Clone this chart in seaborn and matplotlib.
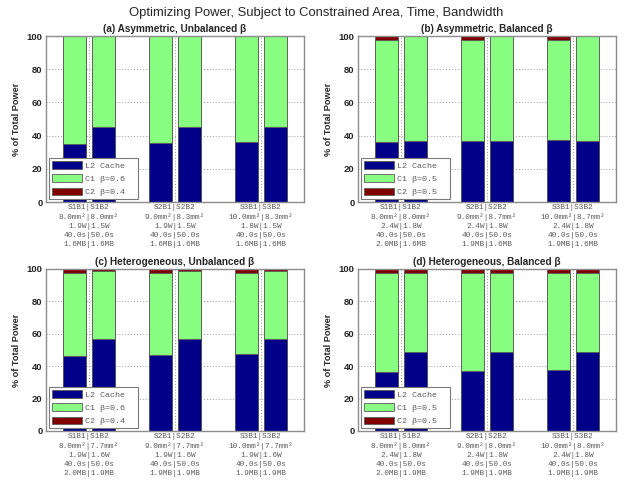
import matplotlib
matplotlib.use("Agg")
import matplotlib.pyplot as plt
import numpy as np
import pandas as pd
import seaborn as sns
from matplotlib.patches import Patch

sns.set_style("white")
plt.rcParams['font.family'] = ['Liberation Sans', 'DejaVu Sans']

# ---------------- data ----------------
groups = ["S1", "S2", "S3"]
configs = ["B1", "B2"]

titles = ["(a) Asymmetric, Unbalanced β", "(b) Asymmetric, Balanced β",
          "(c) Heterogeneous, Unbalanced β", "(d) Heterogeneous, Balanced β"]

legend_labels = [["L2 Cache", "C1 β=0.6", "C2 β=0.4"],
                 ["L2 Cache", "C1 β=0.5", "C2 β=0.5"],
                 ["L2 Cache", "C1 β=0.6", "C2 β=0.4"],
                 ["L2 Cache", "C1 β=0.5", "C2 β=0.5"]]

# order: S1B1, S1B2, S2B1, S2B2, S3B1, S3B2
l2_a = [34.8, 45.4, 35.8, 45.4, 36.0, 45.4]
c1_a = [65.2, 54.6, 64.2, 54.6, 64.0, 54.6]
c2_a = [0.0, 0.0, 0.0, 0.0, 0.0, 0.0]

l2_b = [36.2, 37.0, 37.0, 37.0, 37.4, 37.0]
c1_b = [61.3, 63.0, 60.5, 63.0, 60.1, 63.0]
c2_b = [2.5, 0.0, 2.5, 0.0, 2.5, 0.0]

l2_c = [46.3, 56.6, 46.9, 56.6, 47.3, 56.6]
c1_c = [51.2, 41.9, 50.6, 41.9, 50.2, 41.9]
c2_c = [2.5, 1.5, 2.5, 1.5, 2.5, 1.5]

l2_d = [36.6, 49.0, 37.2, 49.0, 37.6, 49.0]
c1_d = [60.9, 48.8, 60.3, 48.8, 59.9, 48.8]
c2_d = [2.5, 2.2, 2.5, 2.2, 2.5, 2.2]

# tick label info, per panel, per group: (B1 value, B2 value)
area_a = [("8.0", "8.0"), ("9.0", "8.3"), ("10.0", "8.3")]
power_a = [("1.9", "1.5"), ("1.9", "1.5"), ("1.8", "1.5")]
mem_a = [("1.6", "1.6"), ("1.6", "1.6"), ("1.6", "1.6")]

area_b = [("8.0", "8.0"), ("9.0", "8.7"), ("10.0", "8.7")]
power_b = [("2.4", "1.8"), ("2.4", "1.8"), ("2.4", "1.8")]
mem_b = [("2.0", "1.6"), ("1.9", "1.6"), ("1.9", "1.6")]

area_c = [("8.0", "7.7"), ("9.0", "7.7"), ("10.0", "7.7")]
power_c = [("1.9", "1.6"), ("1.9", "1.6"), ("1.9", "1.6")]
mem_c = [("2.0", "1.9"), ("1.9", "1.9"), ("1.9", "1.9")]

area_d = [("8.0", "8.0"), ("9.0", "8.0"), ("10.0", "8.0")]
power_d = [("2.4", "1.8"), ("2.4", "1.8"), ("2.4", "1.8")]
mem_d = [("2.0", "1.9"), ("1.9", "1.9"), ("1.9", "1.9")]

times = ("40.0", "50.0")

panels = [
    (l2_a, c1_a, c2_a, area_a, power_a, mem_a),
    (l2_b, c1_b, c2_b, area_b, power_b, mem_b),
    (l2_c, c1_c, c2_c, area_c, power_c, mem_c),
    (l2_d, c1_d, c2_d, area_d, power_d, mem_d),
]

# ---------------- style ----------------
NAVY = "#000088"
GREEN = "#88ff80"
DRED = "#800000"
EDGE = "#5a5a5a"
FRAME = "#8c8c8c"
MONO = ["Liberation Mono", "DejaVu Sans Mono"]

W, H = 632, 484
fig = plt.figure(figsize=(W / 100, H / 100), dpi=100)

boxes = [
    (46, 36, 304, 202),
    (358, 36, 616, 202),
    (46, 269, 304, 431),
    (358, 269, 616, 431),
]

for i, (l2, c1, c2, area, power, mem) in enumerate(panels):
    x0, y0, x1, y1 = boxes[i]
    ax = fig.add_axes([x0 / W, 1 - y1 / H, (x1 - x0) / W, (y1 - y0) / H])
    df = pd.DataFrame({
        "group": [g for g in groups for _ in configs],
        "cfg": [c for _ in groups for c in configs],
        "L2": l2, "C1": c1, "C2": c2,
    })
    df["top2"] = df["L2"] + df["C1"]
    df["top3"] = df["top2"] + df["C2"]
    for col, color in [("top3", DRED), ("top2", GREEN), ("L2", NAVY)]:
        sns.barplot(data=df, x="group", y=col, hue="cfg",
                    palette=[color, color], saturation=1, width=0.68, gap=0.2,
                    edgecolor=EDGE, linewidth=0.6, legend=False,
                    errorbar=None, ax=ax, zorder=2)
    ax.set_xlim(-0.5, 2.5)
    ax.set_ylim(0, 100)
    ax.set_yticks([0, 20, 40, 60, 80, 100])
    ax.set_axisbelow(True)
    ax.grid(True, linestyle=(0, (1, 2)), color="#9a9a9a", linewidth=0.7)
    for s in ax.spines.values():
        s.set_color(FRAME)
        s.set_linewidth(1.0)
        s.set_visible(True)
    ticklabels = []
    for g in range(3):
        lines = [
            f"{groups[g]}B1|{groups[g]}B2",
            f"{area[g][0]}mm²|{area[g][1]}mm²",
            f"{power[g][0]}W|{power[g][1]}W",
            f"{times[0]}s|{times[1]}s",
            f"{mem[g][0]}MB|{mem[g][1]}MB",
        ]
        ticklabels.append("\n".join(lines))
    ax.set_xticks(range(3))
    ax.set_xticklabels(ticklabels, family=MONO,
                       fontsize=5.6, color="#5a5a5a", linespacing=1.4)
    ax.tick_params(axis="x", length=0, pad=1.5)
    ax.tick_params(axis="y", length=0, pad=2.5, labelsize=6.8)
    for t in ax.get_yticklabels():
        t.set_fontweight("bold")
    ax.set_xlabel("")
    ax.set_ylabel("% of Total Power", fontsize=6.6, fontweight="bold", labelpad=4)
    ax.set_title(titles[i], fontsize=7.2, fontweight="bold", pad=3)
    handles = [Patch(facecolor=c, edgecolor=EDGE, linewidth=0.6) for c in (NAVY, GREEN, DRED)]
    labels = [lab + "  " for lab in legend_labels[i]]
    leg = ax.legend(handles, labels, loc="lower left",
                    prop={"family": MONO, "size": 6},
                    handlelength=3.6, handleheight=1.0, labelspacing=0.55,
                    handletextpad=0.4, borderpad=0.35, borderaxespad=0.35,
                    fancybox=False, framealpha=1, edgecolor="#7a7a7a")
    leg.get_frame().set_linewidth(0.8)
    for t in leg.get_texts():
        t.set_color("#5a5a5a")

fig.text(0.5, 1 - 13 / H, "Optimizing Power, Subject to Constrained Area, Time, Bandwidth",
         ha="center", va="center", fontsize=9.4)

fig.savefig("out.png", dpi=100)
